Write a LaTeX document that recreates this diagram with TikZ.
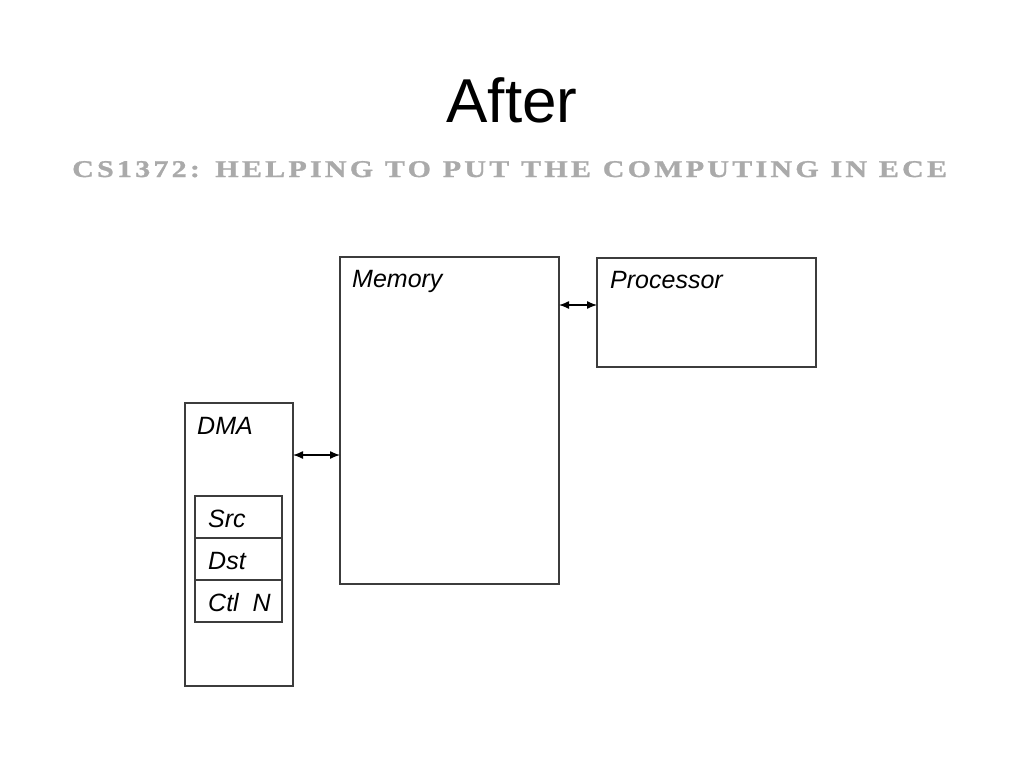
\documentclass[tikz,border=0pt]{standalone}
\usepackage{fontspec}
\setmainfont{Liberation Sans}
\newfontfamily\subtitlefont[UprightFont={* Bold},LetterSpace=13.5,WordSpace=1.1,FakeStretch=1.25,FakeBold=1.2]{Liberation Serif}
\usetikzlibrary{arrows.meta,positioning}

\definecolor{subgray}{RGB}{170,170,170}
\definecolor{boxline}{RGB}{60,60,60}

\begin{document}
\begin{tikzpicture}[x=1pt,y=-1pt,
  unitbox/.style={draw=boxline,line width=1.1pt,inner sep=0pt,outer sep=0pt,anchor=north west},
  regbox/.style={unitbox,minimum width=87pt,minimum height=42pt},
  lbl/.style={inner sep=0pt,anchor=base west,font=\fontsize{25}{30}\selectfont\itshape},
  link/.style={line width=1.3pt,{Latex[length=10pt,width=8pt]}-{Latex[length=10pt,width=8pt]}}]
\useasboundingbox (0,0) rectangle (1024,768);
% titles
\node[inner sep=0pt,anchor=base,font=\fontsize{62}{70}\selectfont] (title) at (512,122) {After};
\node[inner sep=0pt,anchor=base west,text=subgray,font=\subtitlefont\fontsize{24}{28}\selectfont] (subtitle) at (72,177) {CS1372: HELPING TO PUT THE COMPUTING IN ECE};
% boxes
\node[unitbox,minimum width=219pt,minimum height=327pt] (memory) at (340,257) {};
\node[lbl] at ([shift={(12,30)}]memory.north west) {Memory};
\node[unitbox,minimum width=219pt,minimum height=109pt] (processor) at (597,258) {};
\node[lbl] at ([shift={(13,30)}]processor.north west) {Processor};
\node[unitbox,minimum width=108pt,minimum height=283pt] (dma) at (185,403) {};
\node[lbl] at ([shift={(12,31)}]dma.north west) {DMA};
% registers
\node[regbox] (src) at (195,496) {};
\node[regbox,below=0pt of src.south west,anchor=north west] (dst) {};
\node[regbox,below=0pt of dst.south west,anchor=north west] (ctl) {};
\node[lbl] at ([shift={(13,31)}]src.north west) {Src};
\node[lbl] at ([shift={(13,31)}]dst.north west) {Dst};
\node[lbl] at ([shift={(13,31)}]ctl.north west) {Ctl\ \ N};
% connectors
\coordinate (dmabus) at (0,455);
\coordinate (cpubus) at (0,305);
\draw[link] (dma.east |- dmabus) -- (memory.west |- dmabus);
\draw[link] (memory.east |- cpubus) -- (processor.west |- cpubus);
\end{tikzpicture}
\end{document}
